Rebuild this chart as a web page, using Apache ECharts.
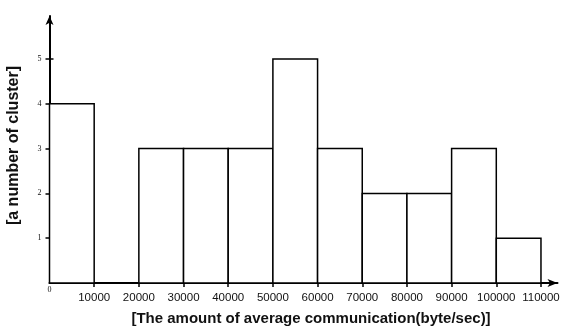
<!DOCTYPE html>
<html>
<head>
<meta charset="utf-8">
<script src="https://cdn.jsdelivr.net/npm/echarts@6/dist/echarts.min.js"></script>
<style>html,body{margin:0;padding:0;background:#fff}#c{width:563px;height:326px}</style>
</head>
<body>
<div id="c"></div>
<script>
const binStarts = [0, 10000, 20000, 30000, 40000, 50000, 60000, 70000, 80000, 90000, 100000];
const binEnds = [10000, 20000, 30000, 40000, 50000, 60000, 70000, 80000, 90000, 100000, 110000];
const counts = [4, 0, 3, 3, 3, 5, 3, 2, 2, 3, 1];
const xTickLabels = [10000, 20000, 30000, 40000, 50000, 60000, 70000, 80000, 90000, 100000, 110000];
const yTickLabels = [1, 2, 3, 4, 5];
const xName = '[The amount of average communication(byte/sec)]';
const yName = '[a number of cluster]';

const chart = echarts.init(document.getElementById('c'), null, {renderer: 'canvas'});
const data = binStarts.map((s, i) => [s, binEnds[i], counts[i]]);
const XMAX = 113700, YMAX = 5.96;
const plain = v => String(v);
const option = {
  animation: false,
  backgroundColor: '#fff',
  grid: {left: 49.5, right: 5.5, top: 16, bottom: 43, containLabel: false, outerBoundsMode: 'none'},
  xAxis: [{
    type: 'value', min: 0, max: XMAX, position: 'bottom',
    splitLine: {show: false},
    axisLine: {show: true, lineStyle: {color: '#000', width: 2}, symbol: ['none', 'arrow'], symbolSize: [6, 10]},
    axisTick: {show: true, customValues: xTickLabels, length: 4, lineStyle: {color: '#000', width: 1.5}},
    axisLabel: {customValues: xTickLabels, formatter: plain, margin: 9, color: '#111', fontFamily: 'Liberation Sans, Arial', fontSize: 11.5},
    name: xName, nameLocation: 'middle', nameGap: 28.5,
    nameTextStyle: {fontFamily: 'Liberation Sans, Arial', fontWeight: 'bold', fontSize: 15, color: '#111', padding: [0, 0, 0, 15]}
  }, {
    type: 'value', min: 0, max: XMAX, position: 'bottom',
    splitLine: {show: false}, axisLine: {show: false}, axisTick: {show: false},
    axisLabel: {customValues: [0], formatter: plain, margin: 3, color: '#111', fontFamily: 'Liberation Serif, Times New Roman', fontSize: 8}
  }],
  yAxis: [{
    type: 'value', min: 0, max: YMAX, position: 'left',
    splitLine: {show: false},
    axisLine: {show: true, lineStyle: {color: '#000', width: 2}, symbol: ['none', 'arrow'], symbolSize: [6, 9]},
    axisTick: {show: true, customValues: yTickLabels, length: 4, lineStyle: {color: '#000', width: 1.5}},
    axisLabel: {customValues: yTickLabels, formatter: plain, margin: 8, color: '#111', fontFamily: 'Liberation Serif, Times New Roman', fontSize: 8},
    name: yName, nameLocation: 'middle', nameGap: 28, nameRotate: 90,
    nameTextStyle: {fontFamily: 'Liberation Sans, Arial', fontWeight: 'bold', fontSize: 16, color: '#111', padding: [0, 0, 0, 8]}
  }, {
    type: 'value', min: 0, max: YMAX, position: 'left',
    splitLine: {show: false}, axisLine: {show: false},
    axisTick: {show: true, inside: true, customValues: yTickLabels, length: 4, lineStyle: {color: '#000', width: 1.5}},
    axisLabel: {show: false}
  }],
  series: [{
    type: 'custom',
    xAxisIndex: 0, yAxisIndex: 0,
    data: data,
    renderItem: function (params, api) {
      const v = api.value(2);
      if (!v) return null;
      const p0 = api.coord([api.value(0), 0]);
      const p1 = api.coord([api.value(1), v]);
      return {
        type: 'rect',
        shape: {x: p0[0], y: p1[1], width: p1[0] - p0[0], height: p0[1] - p1[1]},
        style: {fill: '#fff', stroke: '#000', lineWidth: 1.5}
      };
    }
  }]
};
chart.setOption(option);
</script>
</body>
</html>
